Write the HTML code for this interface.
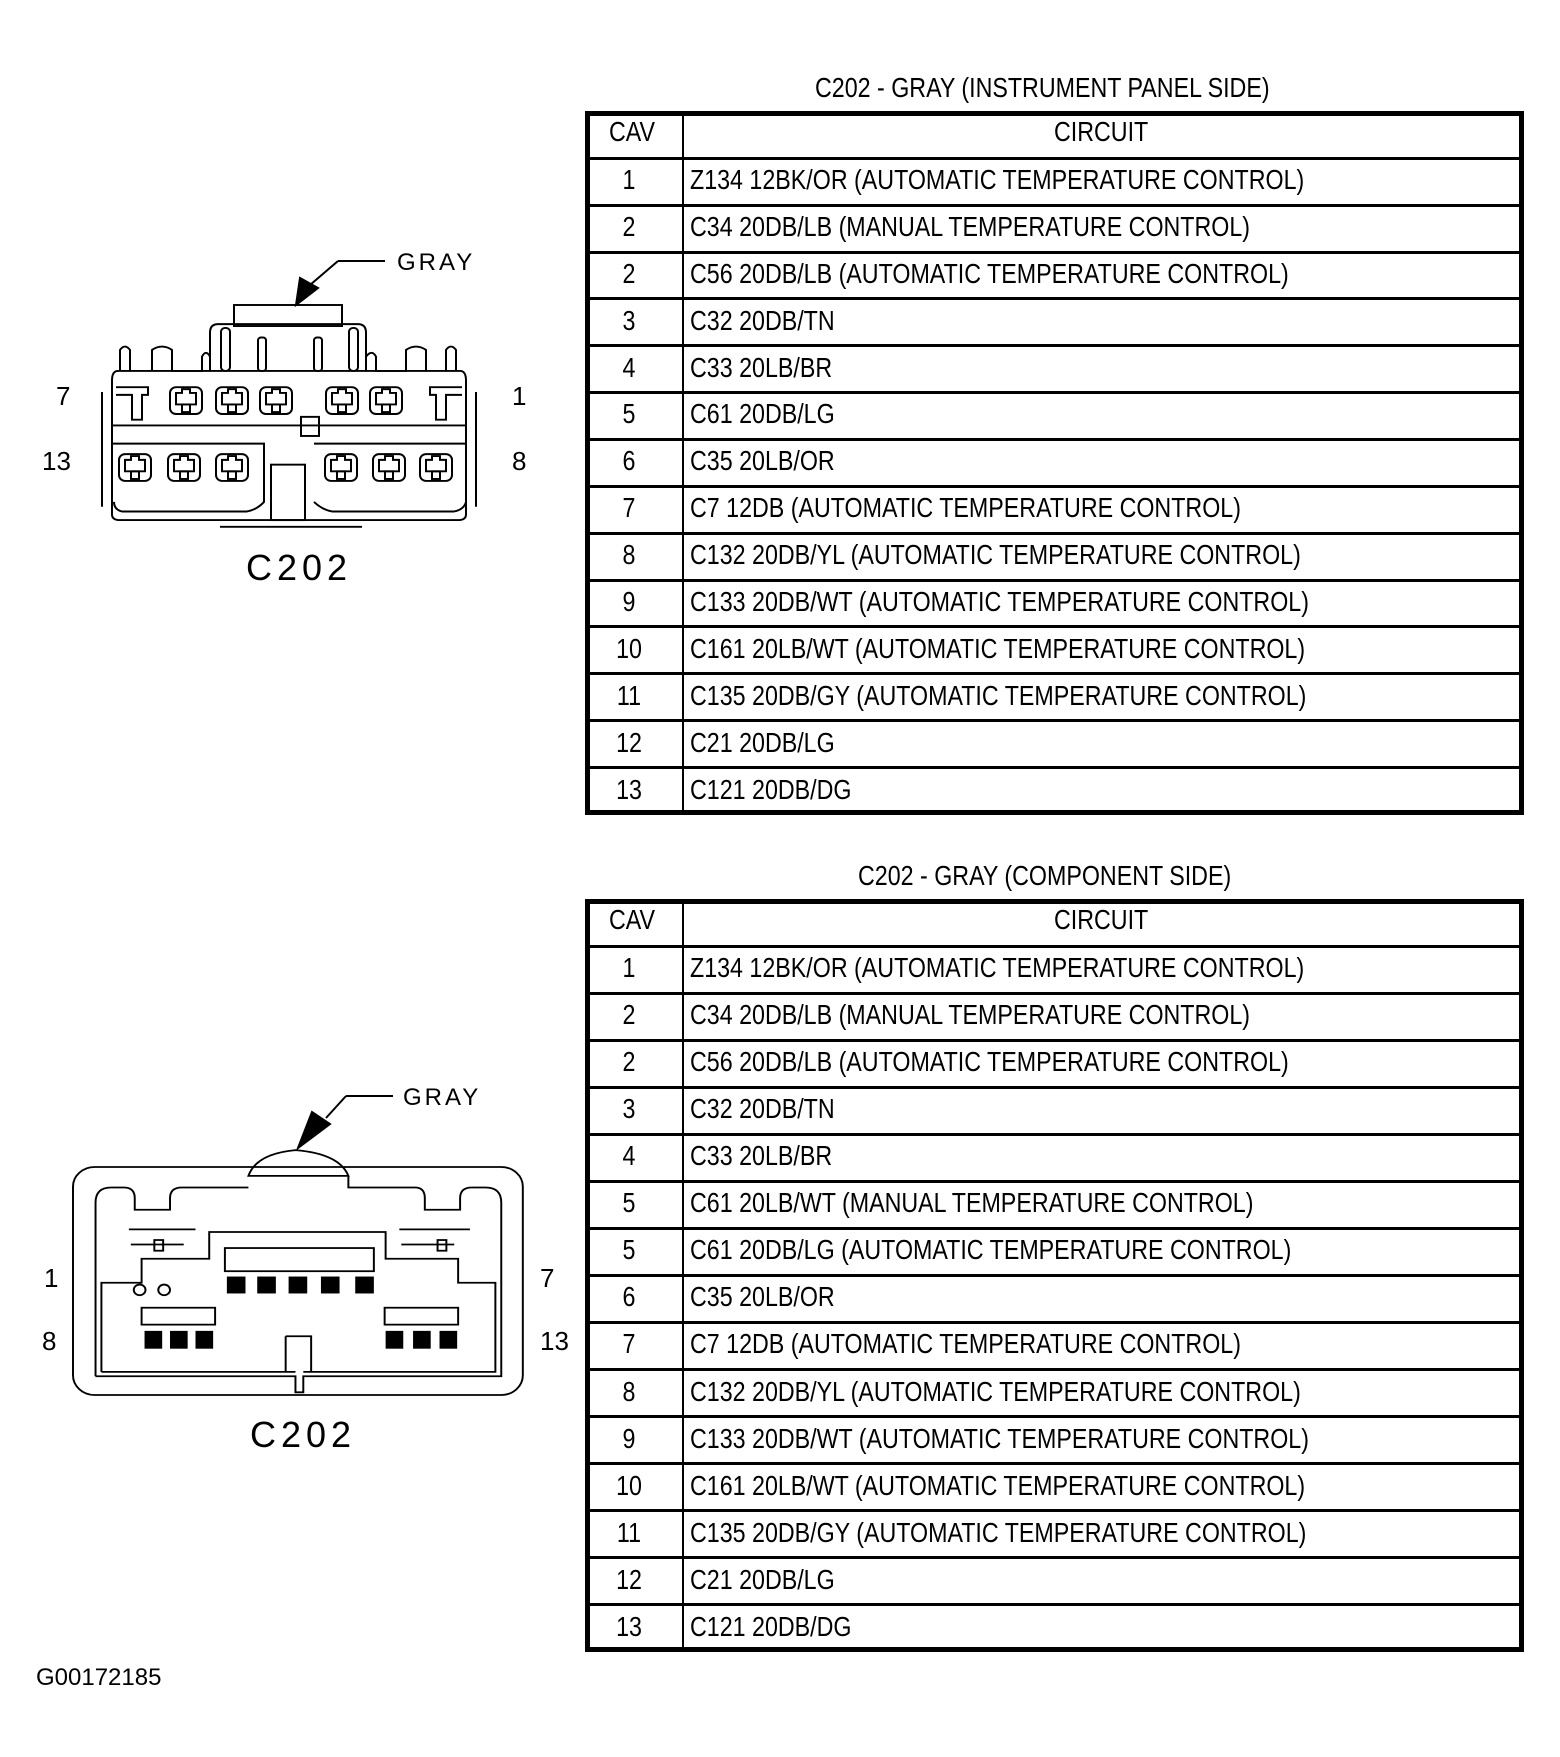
<!DOCTYPE html>
<html><head><meta charset="utf-8"><style>
html,body{margin:0;padding:0;background:#fff;}
body{width:1560px;height:1757px;position:relative;overflow:hidden;font-family:"Liberation Sans",sans-serif;color:#000;}
.t{position:absolute;white-space:nowrap;font-size:28px;line-height:28px;transform-origin:0 0;transform:scaleX(0.83);}
.c{position:absolute;font-size:28px;line-height:28px;width:94px;text-align:center;}
.tb{position:absolute;border:5px solid #000;box-sizing:border-box;}
.hl{position:absolute;left:0;right:0;height:3px;background:#000;}
.vl{position:absolute;top:0;bottom:0;width:2px;background:#000;left:92px;}
</style></head><body>

<svg width="1560" height="1757" style="position:absolute;left:0;top:0" xmlns="http://www.w3.org/2000/svg" fill="none" stroke="#000" stroke-width="2">
<defs>
<g id="cav">
<rect x="-16" y="-14" width="32" height="28" rx="6"/>
<path d="M-10,-8 H-4 V-12 H4 V-8 H10 V4 H-10 Z"/>
<rect x="-4" y="4" width="8" height="8"/>
</g>
</defs>
<!-- top connector -->
<line x1="338" y1="261" x2="385" y2="261"/>
<line x1="338" y1="261" x2="310" y2="285"/>
<polygon points="296,305 300,278 318,288" fill="#000"/>
<text x="397" y="270" font-family="Liberation Sans" font-size="24" fill="#000" stroke="none" letter-spacing="3">GRAY</text>
<g transform="translate(-8,305) scale(1,0.956) translate(0,-316)">
<rect x="242" y="316" width="108" height="22"/>
<path d="M218,385 V345 Q218,336 226,336 H366 Q374,336 374,345 V385"/>
<rect x="229" y="340" width="9" height="45" rx="4"/>
<rect x="357" y="340" width="9" height="45" rx="4"/>
<rect x="266" y="350" width="8" height="35" rx="3"/>
<rect x="322" y="350" width="8" height="35" rx="3"/>
<path d="M128,385 V363 Q133,356 138,363 V385 M160,385 V363 Q170,356 180,363 V385 H210 V370 Q214,362 218,370"/>
<path d="M374,370 Q380,362 384,370 V385 H414 V363 Q424,356 434,363 V385 M454,385 V363 Q459,356 464,363 V385"/>
<path d="M126,385 H468 Q474,385 474,395 V535 Q474,541 466,541 H128 Q120,541 120,535 V395 Q120,385 126,385 Z"/>
<path d="M110,407 V527 M484,407 V527"/>
<line x1="120" y1="442" x2="474" y2="442"/>
<path d="M120,461 H272 V522 Q265,530 255,532 H130 Q122,530 122,522"/>
<path d="M322,461 H474 V522 Q472,530 462,532 H340 Q330,530 322,522"/>
<rect x="279" y="483" width="34" height="58"/>
<rect x="309" y="433" width="18" height="20"/>
<path d="M228,548 H370"/>
<use href="#cav" x="194" y="416"/><use href="#cav" x="240" y="416"/><use href="#cav" x="284" y="416"/>
<use href="#cav" x="350" y="416"/><use href="#cav" x="394" y="416"/>
<path d="M124,402 H156 V410 H150 V436 H140 V410 H124"/>
<path d="M470,402 H438 V410 H444 V436 H454 V410 H470"/>
<use href="#cav" x="143" y="486"/><use href="#cav" x="192" y="486"/><use href="#cav" x="240" y="486"/>
<use href="#cav" x="349" y="486"/><use href="#cav" x="397" y="486"/><use href="#cav" x="444" y="486"/>
</g>
<!-- bottom connector -->
<line x1="346" y1="1096" x2="393" y2="1096"/>
<line x1="346" y1="1096" x2="326" y2="1118"/>
<polygon points="298,1148 312,1112 330,1124" fill="#000"/>
<text x="403" y="1105" font-family="Liberation Sans" font-size="24" fill="#000" stroke="none" letter-spacing="3">GRAY</text>
<g transform="translate(73,1167) scale(0.98,0.8906) translate(-73,-1180)">
<rect x="73" y="1180" width="459" height="256" rx="22"/>
<path d="M252,1190 Q260,1165 300,1161 Q345,1165 354,1190 Z"/>
<path d="M96,1415 V1220 Q96,1203 112,1203 H125 Q136,1203 136,1215 V1228 H172 V1215 Q172,1203 184,1203 H252 M354,1190 V1203 H422 Q432,1203 432,1215 V1228 H468 V1215 Q468,1203 480,1203 H494 Q510,1203 510,1220 V1415 H308 V1433 H300 V1415 H96"/>
<path d="M102,1410 V1310 H143 V1283 H212 V1253 H392 V1283 H466 V1310 H504 V1410 H308 M300,1410 H102"/>
<path d="M290,1370 H316 V1410 M290,1370 V1410"/>
<rect x="228" y="1271" width="152" height="26"/>
<rect x="143" y="1338" width="75" height="19"/>
<rect x="391" y="1338" width="75" height="19"/>
<path d="M132,1267 H186 M408,1267 H462 M130,1250 H198 M406,1250 H478"/>
<rect x="156" y="1262" width="9" height="12"/><rect x="445" y="1262" width="9" height="12"/>
<circle cx="141" cy="1318" r="6"/><circle cx="166" cy="1318" r="6"/>
<g fill="#000">
<rect x="231" y="1304" width="17" height="17"/><rect x="262" y="1304" width="17" height="17"/>
<rect x="294" y="1304" width="17" height="17"/><rect x="327" y="1304" width="17" height="17"/>
<rect x="362" y="1304" width="17" height="17"/>
<rect x="147" y="1365" width="16" height="18"/><rect x="173" y="1365" width="16" height="18"/><rect x="199" y="1365" width="16" height="18"/>
<rect x="393" y="1365" width="16" height="18"/><rect x="421" y="1365" width="16" height="18"/><rect x="448" y="1365" width="16" height="18"/>
</g>
</g>
<g font-family="Liberation Sans" fill="#000" stroke="none" font-size="26">
<text x="56" y="405">7</text><text x="512" y="405">1</text>
<text x="42" y="470">13</text><text x="512" y="470">8</text>
<text x="44" y="1287">1</text><text x="540" y="1287">7</text>
<text x="42" y="1350">8</text><text x="540" y="1350">13</text>
<text x="246" y="580" font-size="36" letter-spacing="5">C202</text>
<text x="250" y="1447" font-size="36" letter-spacing="5">C202</text>
<text x="36" y="1685" font-size="24">G00172185</text>
</g>
</svg>

<div class="t" style="left:815px;top:74px;">C202 - GRAY (INSTRUMENT PANEL SIDE)</div>
<div class="tb" style="left:585px;top:111px;width:939px;height:704px;">
<div class="vl"></div>
<div class="hl" style="top:41px"></div><div class="hl" style="top:88px"></div><div class="hl" style="top:135px"></div><div class="hl" style="top:181px"></div><div class="hl" style="top:228px"></div><div class="hl" style="top:275px"></div><div class="hl" style="top:322px"></div><div class="hl" style="top:369px"></div><div class="hl" style="top:416px"></div><div class="hl" style="top:463px"></div><div class="hl" style="top:509px"></div><div class="hl" style="top:556px"></div><div class="hl" style="top:603px"></div><div class="hl" style="top:650px"></div>
</div>
<div class="tb" style="left:585px;top:899px;width:939px;height:753px;">
<div class="vl"></div>
<div class="hl" style="top:41px"></div><div class="hl" style="top:88px"></div><div class="hl" style="top:135px"></div><div class="hl" style="top:182px"></div><div class="hl" style="top:229px"></div><div class="hl" style="top:276px"></div><div class="hl" style="top:323px"></div><div class="hl" style="top:370px"></div><div class="hl" style="top:417px"></div><div class="hl" style="top:464px"></div><div class="hl" style="top:511px"></div><div class="hl" style="top:558px"></div><div class="hl" style="top:605px"></div><div class="hl" style="top:652px"></div><div class="hl" style="top:699px"></div>
</div>

<div id="t1"></div>
<script>
function build(top, rows, rh){
  var h='';
  var y=top;
  h+='<div class="c" style="left:585px;top:'+(y+7)+'px;transform:scaleX(0.83)">CAV</div>';
  h+='<div class="t" style="left:1054px;top:'+(y+7)+'px;">CIRCUIT</div>';
  y+=rh;
  rows.forEach(function(r){
    h+='<div class="c" style="left:582px;top:'+(y+8)+'px;transform:scaleX(0.83)">'+r[0]+'</div>';
    h+='<div class="t" style="left:690px;top:'+(y+8)+'px;">'+r[1]+'</div>';
    y+=rh;
  });
  return h;
}
var A="(AUTOMATIC TEMPERATURE CONTROL)";
var r1=[["1","Z134 12BK/OR "+A],["2","C34 20DB/LB (MANUAL TEMPERATURE CONTROL)"],["2","C56 20DB/LB "+A],["3","C32 20DB/TN"],["4","C33 20LB/BR"],["5","C61 20DB/LG"],["6","C35 20LB/OR"],["7","C7 12DB "+A],["8","C132 20DB/YL "+A],["9","C133 20DB/WT "+A],["10","C161 20LB/WT "+A],["11","C135 20DB/GY "+A],["12","C21 20DB/LG"],["13","C121 20DB/DG"]];
var r2=[["1","Z134 12BK/OR "+A],["2","C34 20DB/LB (MANUAL TEMPERATURE CONTROL)"],["2","C56 20DB/LB "+A],["3","C32 20DB/TN"],["4","C33 20LB/BR"],["5","C61 20LB/WT (MANUAL TEMPERATURE CONTROL)"],["5","C61 20DB/LG "+A],["6","C35 20LB/OR"],["7","C7 12DB "+A],["8","C132 20DB/YL "+A],["9","C133 20DB/WT "+A],["10","C161 20LB/WT "+A],["11","C135 20DB/GY "+A],["12","C21 20DB/LG"],["13","C121 20DB/DG"]];
document.getElementById('t1').innerHTML=build(111,r1,46.9)+build(899,r2,47.05);
</script>
<div class="t" style="left:858px;top:862px;">C202 - GRAY (COMPONENT SIDE)</div>
</body></html>
